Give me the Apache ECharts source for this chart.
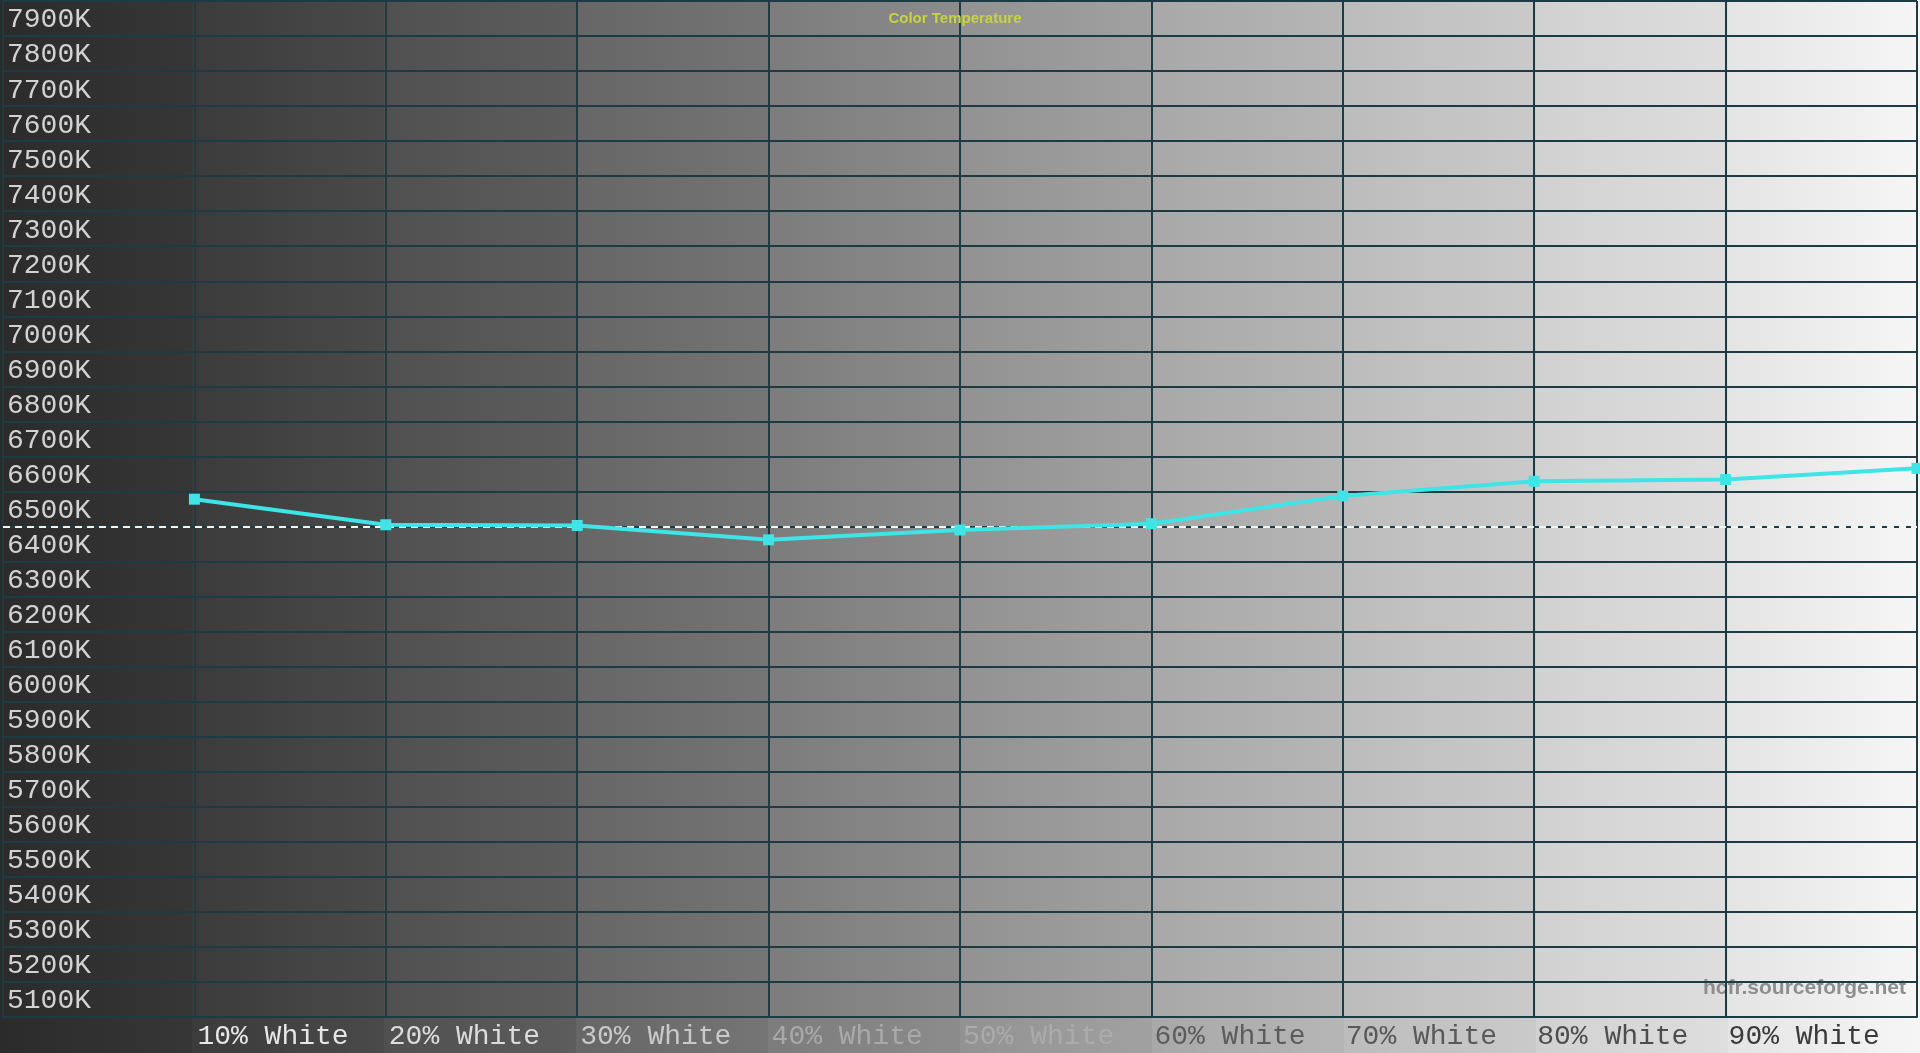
<!DOCTYPE html>
<html>
<head>
<meta charset="utf-8">
<title>Color Temperature</title>
<script src="https://cdn.jsdelivr.net/npm/echarts@6/dist/echarts.min.js"></script>
<style>
  html, body { margin: 0; padding: 0; background: #2c2c2c; }
  #chart { width: 1920px; height: 1053px; }
</style>
</head>
<body>
<div id="chart"></div>
<script>
// Data
const categories = ['0%', '10%', '20%', '30%', '40%', '50%', '60%', '70%', '80%', '90%', '100%'];
const colorTemp = [null, 6578, 6505, 6503, 6462, 6490, 6508, 6587, 6629, 6634, 6666];
const targetTemp = 6500;
const yMin = 5100;
const yMax = 8000;
const yStep = 100;

// Background band shades (left, right) for each 10% column
const bandShades = [
  ['#2b2b2b', '#363636'], ['#3b3b3b', '#4a4a4a'], ['#505050', '#5d5d5d'],
  ['#666666', '#757575'], ['#7c7c7c', '#8c8c8c'], ['#929292', '#a1a1a1'],
  ['#a8a8a8', '#b6b6b6'], ['#bcbcbc', '#cacaca'], ['#d1d1d1', '#dedede'],
  ['#e4e4e4', '#f6f6f6']
];
// label colours per category on the x axis
const xLabelColors = ['#ffffff', '#e6e6e6', '#dcdcdc', '#c9c9c9', '#a9a9a9', '#ababab',
  '#5c5c5c', '#595959', '#4d4d4d', '#3a3a3a', '#333333'];

const GRID_COLOR = '#1d3b42';
const LINE_COLOR = '#3fe4e6';

function el(id) {
  return document.getElementById(id);
}

function buildBands(width, height) {
  const w = width / bandShades.length;
  return bandShades.map((c, i) => ({
    type: 'rect',
    z: -10,
    silent: true,
    shape: { x: i * w, y: 0, width: w + 1, height: height },
    style: {
      fill: new echarts.graphic.LinearGradient(0, 0, 1, 0, [
        { offset: 0, color: c[0] },
        { offset: 1, color: c[1] }
      ])
    }
  }));
}

const chart = echarts.init(el('chart'), null, { renderer: 'canvas' });

chart.setOption({
  backgroundColor: 'transparent',
  animation: false,
  title: {
    text: 'Color Temperature',
    left: 950,
    textAlign: 'center',
    top: 6,
    textStyle: {
      color: '#c9d33f',
      fontSize: 15,
      fontWeight: 'bold',
      fontFamily: 'Liberation Sans, Arial, sans-serif'
    }
  },
  grid: { left: 0, right: 0, top: 1, bottom: 36, containLabel: false },
  xAxis: {
    type: 'category',
    data: categories,
    boundaryGap: false,
    axisLine: { show: true, lineStyle: { color: GRID_COLOR, width: 2 } },
    axisTick: { show: false },
    splitLine: { show: true, interval: 0, lineStyle: { color: GRID_COLOR, width: 2 } },
    axisLabel: {
      interval: 0,
      align: 'left',
      margin: 6,
      padding: [0, 0, 0, 3],
      fontFamily: 'Liberation Mono, Courier New, monospace',
      fontSize: 28,
      color: (v, i) => xLabelColors[i],
      formatter: (v, i) => (i === 0 || i === categories.length - 1) ? '' : v + ' White'
    }
  },
  yAxis: {
    type: 'value',
    min: yMin,
    max: yMax,
    interval: yStep,
    axisLine: { show: true, lineStyle: { color: GRID_COLOR, width: 2 } },
    axisTick: { show: false },
    splitLine: { show: true, lineStyle: { color: GRID_COLOR, width: 2 } },
    axisLabel: {
      inside: true,
      showMaxLabel: false,
      showMinLabel: true,
      align: 'left',
      verticalAlign: 'bottom',
      margin: 4,
      lineHeight: 30,
      padding: [0, 0, 1, 0],
      fontFamily: 'Liberation Mono, Courier New, monospace',
      fontSize: 28,
      color: '#d2d2d2',
      formatter: v => v + 'K'
    }
  },
  series: [{
    name: 'Color Temperature',
    type: 'line',
    data: colorTemp,
    connectNulls: false,
    symbol: 'rect',
    symbolSize: 11,
    lineStyle: { color: LINE_COLOR, width: 4 },
    itemStyle: { color: LINE_COLOR },
    z: 5,
    markLine: {
      silent: true,
      symbol: 'none',
      label: { show: false },
      lineStyle: { color: '#f4f4f4', type: [7, 5], width: 2 },
      data: [{ yAxis: targetTemp }],
      z: 4
    }
  }],
  graphic: buildBands(chart.getWidth(), chart.getHeight()).concat([{
    type: 'text',
    right: 14,
    top: 978,
    silent: true,
    style: {
      text: 'hcfr.sourceforge.net',
      fill: '#8e8e8e',
      font: 'bold 21px "Liberation Sans", Arial, sans-serif'
    }
  }])
});
</script>
</body>
</html>
